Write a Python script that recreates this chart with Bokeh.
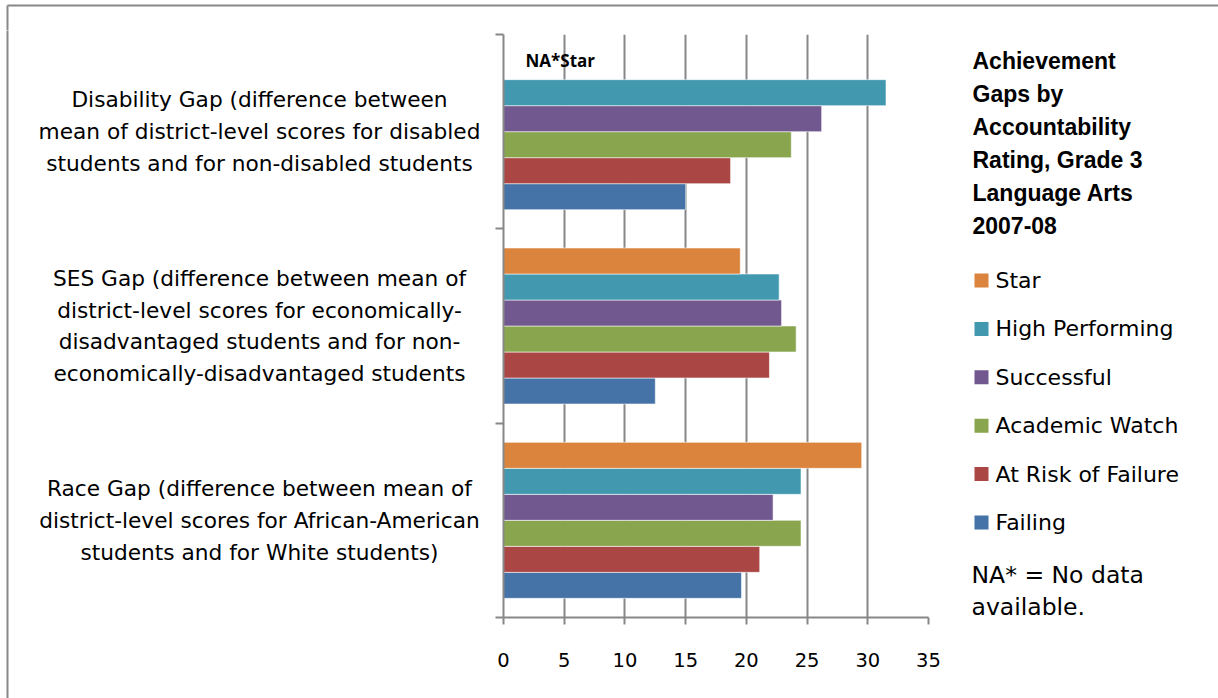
from bokeh.plotting import figure
from bokeh.layouts import row, column
from bokeh.models import Range1d, FixedTicker, ColumnDataSource
from bokeh.core.properties import value
from bokeh.transform import dodge
from bokeh.embed import file_html
from bokeh.resources import INLINE

# ---------------- data ----------------
categories = [  # bottom -> top
    "Race Gap (difference between mean of\ndistrict-level scores for African-American\nstudents and for White students)",
    "SES Gap (difference between mean of\ndistrict-level scores for economically-\ndisadvantaged students and for non-\neconomically-disadvantaged students",
    "Disability Gap (difference between\nmean of district-level scores for disabled\nstudents and for non-disabled students",
]
series = ["Failing", "At Risk of Failure", "Academic Watch", "Successful",
          "High Performing", "Star"]
failing = [19.6, 12.5, 15.0]
at_risk = [21.1, 21.9, 18.7]
academic_watch = [24.5, 24.1, 23.7]
successful = [22.2, 22.9, 26.2]
high_performing = [24.5, 22.7, 31.5]
star = [29.5, 19.5, float("nan")]   # NA* for Disability Gap
colors = ["#4572A7", "#AA4643", "#89A54E", "#71588F", "#4198AF", "#DB843D"]
x_ticks = [0, 5, 10, 15, 20, 25, 30, 35]
title_text = "Achievement\nGaps by\nAccountability\nRating,  Grade 3\nLanguage Arts\n2007-08"
na_note = "NA* = No data\navailable."
na_label = "NA*Star"

values = [failing, at_risk, academic_watch, successful, high_performing, star]

# ---------------- layout constants ----------------
FONT = "DejaVu Sans"
GRAY = "#878787"
W, H = 1218, 698
TOP_H = 30            # strip carrying the top edge of the chart border
ROW_H = H - TOP_H     # 668
FRAME_W, FRAME_H = 425, 583
M_TOP, M_BOT, M_LEFT, M_RIGHT = 4, 81, 20, 15
L_W = 503 - M_LEFT    # left label panel width (483)
MAIN_W = M_LEFT + FRAME_W + M_RIGHT
R_W = W - L_W - MAIN_W
n_cat = len(categories)
unit_px = FRAME_H / n_cat
bar_h = 26 / unit_px


def blank(width, height, xr, yr):
    f = figure(width=width, height=height, x_range=xr, y_range=yr,
               x_axis_location=None, y_axis_location=None,
               min_border=0, output_backend="svg", toolbar_location=None)
    f.frame_align = False
    f.grid.visible = False
    f.outline_line_color = None
    f.background_fill_color = "white"
    f.border_fill_color = "white"
    return f


# ---------------- top strip (chart border) ----------------
top = blank(W, TOP_H, Range1d(0, W), Range1d(TOP_H, 0))
top.segment(x0=[7, 7], y0=[5, 5], x1=[W + 5, 7], y1=[5, TOP_H + 2],
            line_color=GRAY, line_width=2)

# ---------------- main plot ----------------
p = figure(frame_width=FRAME_W, frame_height=FRAME_H,
           x_range=Range1d(0, 35), y_range=Range1d(0, n_cat),
           min_border_left=M_LEFT, min_border_right=M_RIGHT,
           min_border_top=M_TOP, min_border_bottom=M_BOT,
           output_backend="svg", toolbar_location=None)
p.frame_align = False
p.outline_line_color = None
p.border_fill_color = "white"

src = dict(y=[i + 0.5 for i in range(n_cat)])
for name, vals in zip(series, values):
    src[name] = vals
source = ColumnDataSource(src)

for i, (name, col) in enumerate(zip(series, colors)):
    off = (i - (len(series) - 1) / 2) * bar_h
    p.hbar(y=dodge("y", off, range=p.y_range), right=name, left=0,
           height=bar_h, source=source, fill_color=col,
           line_color="white", line_alpha=0.55, line_width=1)

p.ygrid.visible = False
p.xgrid.ticker = FixedTicker(ticks=x_ticks)
p.xgrid.grid_line_color = GRAY
p.xgrid.grid_line_width = 2

xa = p.xaxis[0]
xa.ticker = FixedTicker(ticks=x_ticks)
xa.axis_line_color = GRAY
xa.axis_line_width = 2
xa.major_tick_line_color = GRAY
xa.major_tick_line_width = 2
xa.major_tick_in = 0
xa.major_tick_out = 7
xa.minor_tick_line_color = None
xa.major_label_text_font = FONT
xa.major_label_text_font_size = "19.5px"
xa.major_label_text_color = "black"
xa.major_label_standoff = 28

ya = p.yaxis[0]
y_ticks = list(range(n_cat + 1))
ya.ticker = FixedTicker(ticks=y_ticks)
ya.major_label_overrides = {t: "" for t in y_ticks}
ya.major_label_standoff = 0
ya.axis_line_color = GRAY
ya.axis_line_width = 2
ya.major_tick_line_color = GRAY
ya.major_tick_line_width = 2
ya.major_tick_in = 0
ya.major_tick_out = 8
ya.minor_tick_line_color = None

# NA*Star in the Star slot of the Disability group
star_off = ((len(series) - 1) / 2) * bar_h
p.text(x=[0], y=[n_cat - 0.5 + star_off], text=[na_label],
       x_offset=22, y_offset=-6, text_font=value("Open Sans"),
       text_font_style="bold", text_font_size="17px",
       text_baseline="middle", text_color="black")

# ---------------- left panel: category labels ----------------
L = blank(L_W, ROW_H, Range1d(0, L_W),
          Range1d(-M_BOT / unit_px, n_cat + M_TOP / unit_px))
L.segment(x0=[7], y0=[-5], x1=[7], y1=[n_cat + 5], line_color=GRAY, line_width=2)
L.text(x=[259] * n_cat, y=[i + 0.5 for i in range(n_cat)], text=categories,
       text_align="center", text_baseline="middle", text_font=value(FONT),
       text_font_size="21.7px", text_line_height=1.27, text_color="black")

# ---------------- right panel: title, legend, note ----------------
R = blank(R_W, ROW_H, Range1d(W - R_W, W), Range1d(H, TOP_H))
R.text(x=[972], y=[143], text=[title_text], text_align="left",
       text_baseline="middle", text_font=value("Liberation Sans"),
       text_font_style="bold", text_font_size="23px", text_line_height=1.27,
       text_color="black")

leg_names = list(reversed(series))
leg_cols = list(reversed(colors))
leg_y = [280 + 48.4 * k for k in range(len(leg_names))]
R.scatter(x=[981] * len(leg_names), y=leg_y, marker="square", size=14,
          fill_color=leg_cols, line_color=None)
R.text(x=[995] * len(leg_names), y=leg_y, text=leg_names, text_align="left",
       text_baseline="middle", text_font=value(FONT), text_font_size="22px",
       text_color="black")

R.text(x=[971], y=[590.5], text=[na_note], text_align="left",
       text_baseline="middle", text_font=value(FONT), text_font_size="23.5px",
       text_line_height=1.17, text_color="black")

layout = column(top, row(L, p, R, spacing=0), spacing=0)
open("out.html", "w").write(file_html(layout, INLINE))
